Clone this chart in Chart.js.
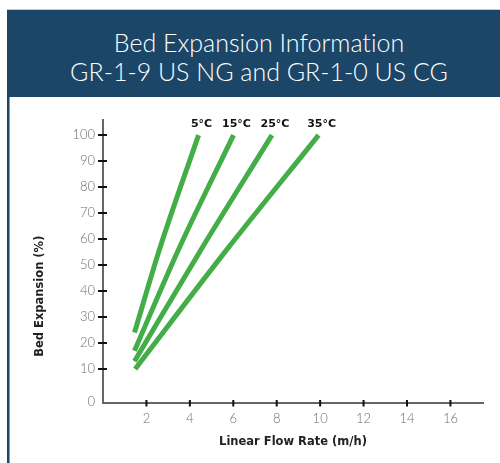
<!DOCTYPE html>
<html>
<head>
<meta charset="utf-8">
<script src="https://cdn.jsdelivr.net/npm/chart.js@4.4.1/dist/chart.umd.min.js"></script>
<style>
  html, body { margin: 0; padding: 0; background: #fff; width: 500px; height: 463px; overflow: hidden; position: relative; }
  #topline { position: absolute; left: 7px; top: 9px; width: 493px; height: 1px; background: #c9c9c9; }
  #header { position: absolute; left: 7px; top: 10px; width: 493px; height: 87px; padding: 18px 0 0 11px; box-sizing: border-box;
            background: #1c4668; color: #fff; font-family: Lato, sans-serif; font-weight: 300; font-size: 25px; line-height: 28.5px;
            text-align: center; font-variant-ligatures: none; }
  #leftbar { position: absolute; left: 7px; top: 97px; width: 2px; height: 366px; background: #1c4668; }
  #leftbar2 { position: absolute; left: 9px; top: 97px; width: 1px; height: 366px; background: #86a0b8; }
  #chart { position: absolute; left: 0; top: 0; }
</style>
</head>
<body>
<canvas id="chart" width="500" height="463"></canvas>
<div id="topline"></div>
<div id="header">Bed Expansion Information<br>GR-1-9 US NG and GR-1-0 US CG</div>
<div id="leftbar"></div>
<div id="leftbar2"></div>
<script>
// temperatures (one line each)
const temps = ['5°C', '15°C', '25°C', '35°C'];

// linear flow rate (m/h) and bed expansion (%)
const flow5 = [1.45, 2.60, 4.40];
const exp5 = [24, 56, 100];
const flow15 = [1.45, 3.48, 6.01];
const exp15 = [17, 56, 100];
const flow25 = [1.45, 4.52, 7.78];
const exp25 = [13, 56, 100];
const flow35 = [1.48, 5.71, 9.93];
const exp35 = [10, 56, 100];

// axis ticks
const xTicks = [2, 4, 6, 8, 10, 12, 14, 16];
const yTicks = [0, 10, 20, 30, 40, 50, 60, 70, 80, 90, 100];
const yZeroPos = -2.5; // the 0 sits just above the broken axis bottom

const yTitle = 'Bed Expansion (%)';
const green = '#43ad47';

function toPoints(xs, ys) {
  return xs.map((x, i) => ({ x: x, y: ys[i] }));
}

const series = [
  toPoints(flow5, exp5),
  toPoints(flow15, exp15),
  toPoints(flow25, exp25),
  toPoints(flow35, exp35)
];

// tick marks that cross the axis lines, plus the y title
const crossTicks = {
  id: 'crossTicks',
  afterDraw(chart) {
    const ctx = chart.ctx;
    const xs = chart.scales.x, ys = chart.scales.y;
    const ax = chart.chartArea.left, ay = chart.chartArea.bottom;
    ctx.save();
    ctx.strokeStyle = '#111';
    ctx.lineWidth = 2;
    ctx.beginPath();
    yTicks.forEach(v => {
      if (v === 0) return;
      const py = ys.getPixelForValue(v);
      ctx.moveTo(ax - 5, py);
      ctx.lineTo(ax + 4, py);
    });
    xTicks.forEach(v => {
      const px = xs.getPixelForValue(v);
      ctx.moveTo(px, ay - 3);
      ctx.lineTo(px, ay + 3.5);
    });
    ctx.stroke();

    // y title, a bit below the axis middle as in the original
    ctx.translate(40, ys.getPixelForValue(38));
    ctx.rotate(-Math.PI / 2);
    ctx.font = 'bold 11.5px "DejaVu Sans"';
    ctx.fillStyle = '#222';
    ctx.textAlign = 'center';
    ctx.textBaseline = 'middle';
    ctx.fillText(yTitle, 0, 0);
    ctx.restore();
  }
};

// temperature names above the top end of each line
const lineNames = {
  id: 'lineNames',
  afterDatasetsDraw(chart) {
    const ctx = chart.ctx;
    ctx.save();
    ctx.font = 'bold 11px "DejaVu Sans"';
    ctx.fillStyle = '#111';
    ctx.textAlign = 'center';
    ctx.textBaseline = 'middle';
    chart.data.datasets.forEach((ds, i) => {
      const pts = chart.getDatasetMeta(i).data;
      const last = pts[pts.length - 1];
      ctx.fillText(ds.label, last.x + 3, last.y - 11);
    });
    ctx.restore();
  }
};

new Chart(document.getElementById('chart'), {
  type: 'line',
  data: {
    datasets: series.map((pts, i) => ({
      label: temps[i],
      data: pts,
      borderColor: green,
      borderWidth: 5,
      borderCapStyle: 'butt',
      pointRadius: 0,
      cubicInterpolationMode: 'monotone',
      fill: false
    }))
  },
  options: {
    responsive: false,
    animation: false,
    layout: { padding: { top: 120, right: 17, left: 0, bottom: 0 } },
    plugins: {
      legend: { display: false },
      tooltip: { enabled: false }
    },
    scales: {
      x: {
        type: 'linear',
        min: 0,
        max: 17.5,
        afterFit(scale) { scale.height = 60; },
        afterBuildTicks(scale) { scale.ticks = xTicks.map(v => ({ value: v })); },
        grid: { display: false, drawTicks: false },
        border: { display: true, color: '#666', width: 2 },
        ticks: {
          padding: 8,
          color: '#6e6e6e',
          font: { family: 'Lato', size: 13, weight: 300 },
          maxRotation: 0
        },
        title: {
          display: true,
          text: 'Linear Flow Rate (m/h)',
          color: '#222',
          font: { family: 'DejaVu Sans', size: 11.5, weight: 'bold' },
          padding: { top: 0, bottom: 14 }
        }
      },
      y: {
        type: 'linear',
        min: -3.1,
        max: 105.8,
        afterFit(scale) { scale.width = 103; },
        afterBuildTicks(scale) { scale.ticks = yTicks.map(v => ({ value: v === 0 ? yZeroPos : v })); },
        grid: { display: false, drawTicks: false },
        border: { display: true, color: '#666', width: 2 },
        ticks: {
          padding: 8,
          color: '#6e6e6e',
          font: { family: 'Lato', size: 13, weight: 300 },
          callback: v => (v < 0 ? '0' : v)
        },
        title: { display: false }
      }
    }
  },
  plugins: [crossTicks, lineNames]
});
</script>
</body>
</html>
